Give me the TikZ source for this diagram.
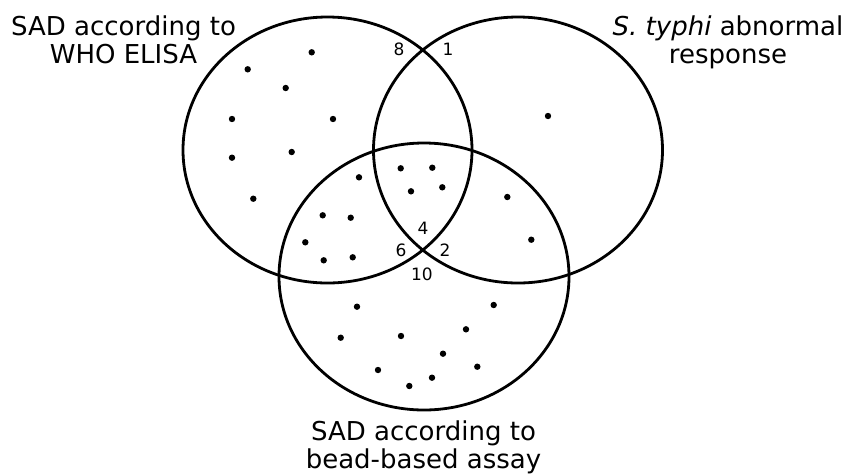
\documentclass[tikz,border=0pt]{standalone}
\usepackage{fontspec}
\setmainfont{DejaVu Sans}
\usetikzlibrary{shapes.geometric}
\begin{document}
\begin{tikzpicture}[x=1pt,y=-1pt,
  setshape/.style={draw=black, line width=2.8pt, ellipse, inner sep=0pt, outer sep=0pt,
     minimum width=289pt, minimum height=266pt},
  title/.style={align=center, font=\fontsize{26}{28}\selectfont, inner sep=0pt, anchor=base},
  count/.style={font=\fontsize{17}{19}\selectfont, inner sep=0pt, anchor=base},
  dot/.style={circle, fill=black, inner sep=0pt, minimum size=6.4pt}]
\useasboundingbox (0,0) rectangle (847,475);
\node[setshape] (who) at (327.5,150) {};
\node[setshape] (typhi) at (518,150) {};
\node[setshape, minimum width=290pt, minimum height=267pt] (bead) at (424,276.5) {};

\node[title] (twho) at (123.5,63) {SAD according to\\WHO ELISA};
\node[title] (ttyphi) at (728,63) {\textit{S. typhi} abnormal\\response};
\node[title] (tbead) at (423.5,468) {SAD according to\\bead-based assay};

\node[count] (n8) at (399,55) {8};
\node[count] (n1) at (448,55) {1};
\node[count] (n4) at (423,234) {4};
\node[count] (n6) at (401,256) {6};
\node[count] (n2) at (445,256) {2};
\node[count] (n10) at (422,280) {10};

\foreach \i/\p in {1/{311.7,52.3},2/{247.7,69.3},3/{285.7,88},4/{232,119},5/{333,119},
  6/{232,157.7},7/{291.7,152},8/{253.3,198.7},9/{359,177.3},10/{400.7,168.3},
  11/{432.3,167.7},12/{411,191.3},13/{442.3,187.3},14/{322.7,215.3},15/{350.7,217.7},
  16/{305.3,242.3},17/{323.7,260.3},18/{352.7,257.3},19/{507.3,197},20/{531.3,239.7},
  21/{357,306.7},22/{493.7,305},23/{340.7,337.7},24/{401,336},25/{466,329.3},
  26/{443,353.7},27/{378,370},28/{477.3,366.7},29/{409.3,386},30/{432,377.7},31/{548,116}}
  \node[dot] (d\i) at (\p) {};
\end{tikzpicture}
\end{document}
